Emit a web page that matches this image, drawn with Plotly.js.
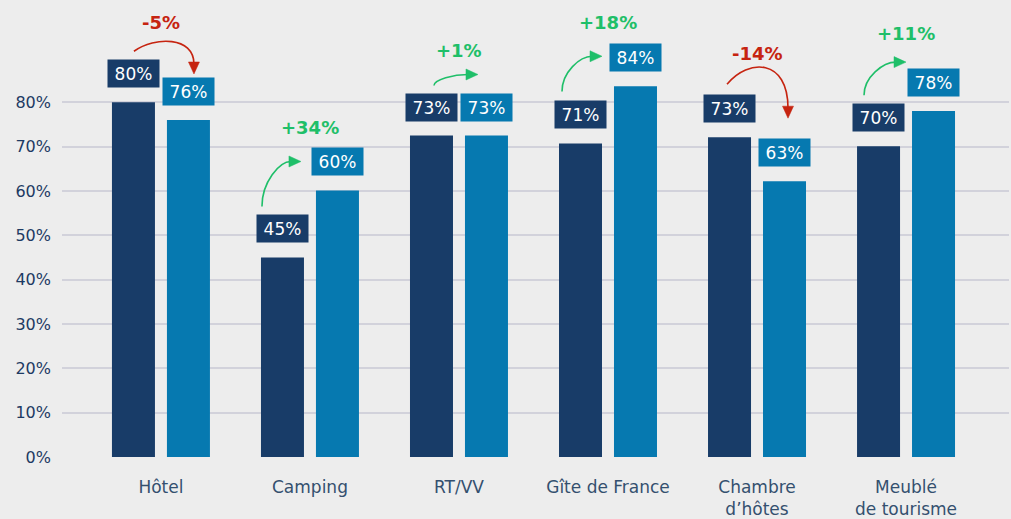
<!DOCTYPE html>
<html><head><meta charset="utf-8">
<script src="https://cdn.plot.ly/plotly-3.0.1.min.js"></script>
<style>html,body{margin:0;padding:0;background:#ededed;}</style>
</head><body><div id="chart" style="width:1011px;height:519px;"></div>
<script>
// ---- data ----
const categories = ["Hôtel", "Camping", "RT/VV", "Gîte de France", "Chambre<br>d’hôtes", "Meublé<br>de tourisme"];
const darkValues = [80, 45, 72.5, 70.7, 72.1, 70.1];
const lightValues = [76, 60.1, 72.5, 83.6, 62.2, 78];
const darkLabels = ["80%", "45%", "73%", "71%", "73%", "70%"];
const lightLabels = ["76%", "60%", "73%", "84%", "63%", "78%"];
const changeLabels = ["-5%", "+34%", "+1%", "+18%", "-14%", "+11%"];
const yTicks = [0, 10, 20, 30, 40, 50, 60, 70, 80];
const yTickText = ["0%", "10%", "20%", "30%", "40%", "50%", "60%", "70%", "80%"];

// ---- style ----
const W = 1011, H = 519;
const M = {l: 62, r: 2, t: 10, b: 62};
const yRange = [0, 100.8];
const xRange = [-0.664, 5.691];
const DARK = '#183c68', LIGHT = '#0679b0', RED = '#c62410', GREEN = '#1fbf69';
const FONT = 'DejaVu Sans, sans-serif';
// arrow decoration offsets in px: start rel. to dark bar top, end rel. to light bar top
const arrowStyle = [
  {s: [-27, 51], e: [33, 46], lift: 15, text: 80},
  {s: [-48, 51], e: [-9, 29], text: 130},
  {s: [-25, 50], e: [19, 61], text: 85},
  {s: [-46, 52], e: [-6, 30], text: 121},
  {s: [-30, 53], e: [31, 63], lift: 26, text: 84},
  {s: [-42, 51], e: [0, 49], text: 113}
];

const plotW = W - M.l - M.r, plotH = H - M.t - M.b;
const ppu = plotH / (yRange[1] - yRange[0]);
const ppc = plotW / (xRange[1] - xRange[0]);

const traces = [
  {type: 'bar', x: categories, y: darkValues, marker: {color: DARK}, hoverinfo: 'skip'},
  {type: 'bar', x: categories, y: lightValues, marker: {color: LIGHT}, hoverinfo: 'skip'}
];

const annotations = [];
const shapes = [];
categories.forEach((c, i) => {
  annotations.push({x: c, y: darkValues[i], xref: 'x', yref: 'y', xshift: -27.5, yshift: 14,
    yanchor: 'bottom', xanchor: 'center', text: darkLabels[i], showarrow: false,
    bgcolor: DARK, width: 51, height: 27, borderpad: 0, valign: 'middle',
    font: {family: FONT, size: 17, color: '#ffffff'}});
  annotations.push({x: c, y: lightValues[i], xref: 'x', yref: 'y', xshift: 27.5, yshift: 14,
    yanchor: 'bottom', xanchor: 'center', text: lightLabels[i], showarrow: false,
    bgcolor: LIGHT, width: 51, height: 27, borderpad: 0, valign: 'middle',
    font: {family: FONT, size: 17, color: '#ffffff'}});
  const up = changeLabels[i].startsWith('+');
  const col = up ? GREEN : RED;
  const st = arrowStyle[i];
  annotations.push({x: c, y: darkValues[i], xref: 'x', yref: 'y', yshift: st.text,
    yanchor: 'middle', xanchor: 'center', text: '<b>' + changeLabels[i] + '</b>', showarrow: false,
    font: {family: FONT, size: 18, color: col}});
  // arrow geometry in px (up positive) relative to (category center, dark bar top)
  const S = [st.s[0], st.s[1]];
  const E = [st.e[0], (lightValues[i] - darkValues[i]) * ppu + st.e[1]];
  let P1, P2;
  if (up) {
    P1 = [S[0], S[1] + (E[1] - S[1]) * 0.55];
    P2 = [S[0] + (E[0] - S[0]) * 0.45, E[1]];
  } else {
    const lift = st.lift || 15;
    P1 = [S[0] + (E[0] - S[0]) * 0.35, S[1] + lift];
    P2 = [E[0], S[1] + lift];
  }
  const toD = p => (i + p[0] / ppc).toFixed(5) + ',' + (darkValues[i] + p[1] / ppu).toFixed(5);
  // arrowhead
  let dx = E[0] - P2[0], dy = E[1] - P2[1];
  const len = Math.hypot(dx, dy); dx /= len; dy /= len;
  const hl = 12, hw = 5.5;
  const B = [E[0] - dx * hl, E[1] - dy * hl];
  const L = [B[0] - dy * hw, B[1] + dx * hw];
  const R = [B[0] + dy * hw, B[1] - dx * hw];
  const Bc = [E[0] - dx * (hl - 2), E[1] - dy * (hl - 2)];
  shapes.push({type: 'path', xref: 'x', yref: 'y', layer: 'above',
    path: 'M' + toD(S) + ' C' + toD(P1) + ' ' + toD(P2) + ' ' + toD(Bc),
    line: {color: col, width: 1.6}});
  shapes.push({type: 'path', xref: 'x', yref: 'y', layer: 'above',
    path: 'M' + toD(E) + ' L' + toD(L) + ' L' + toD(R) + ' Z',
    fillcolor: col, line: {color: col, width: 0.5}});
});

const layout = {
  width: W, height: H, margin: M,
  paper_bgcolor: '#ededed', plot_bgcolor: '#ededed',
  showlegend: false, barmode: 'group', bargap: 0.262, bargroupgap: 0.218,
  font: {family: FONT},
  xaxis: {type: 'category', range: xRange, showgrid: false, zeroline: false, showline: false,
    ticks: '', ticklabelstandoff: 18, tickfont: {family: FONT, size: 17, color: '#34506f'}},
  yaxis: {range: yRange, tickmode: 'array', tickvals: yTicks, ticktext: yTickText, showgrid: true,
    gridcolor: '#d2d2db', gridwidth: 2, zeroline: false, showline: false, ticks: '',
    ticklabelstandoff: 10, tickfont: {family: FONT, size: 16, color: '#1d3a63'}},
  annotations: annotations, shapes: shapes
};
Plotly.newPlot('chart', traces, layout, {displayModeBar: false, staticPlot: true});
</script></body></html>
